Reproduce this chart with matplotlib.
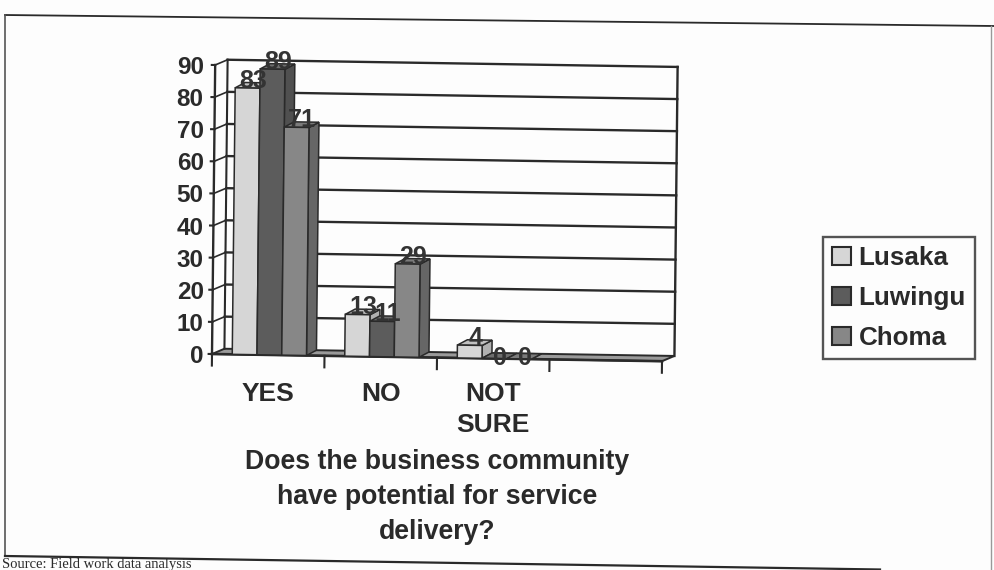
import matplotlib
matplotlib.use("Agg")
import matplotlib.pyplot as plt
import numpy as np
from matplotlib.patches import Polygon, Patch
from matplotlib.transforms import Affine2D

categories = ["YES", "NO", "NOT\nSURE", ""]
series_names = ["Lusaka", "Luwingu", "Choma"]
lusaka = [83, 13, 4]
luwingu = [89, 11, 0]
choma = [71, 29, 0]
series_values = [lusaka, luwingu, choma]
y_ticks = [0, 10, 20, 30, 40, 50, 60, 70, 80, 90]
x_title = "Does the business community\nhave potential for service\ndelivery?"
source_text = "Source: Field work data analysis"

face = ["#d6d6d6", "#5c5c5c", "#878787"]
side = ["#b0b0b0", "#505050", "#666666"]
top = ["#c0c0c0", "#6e6e6e", "#7a7a7a"]
INK = "#2a2a2a"
PAGE = "#fdfdfd"
W, H = 994, 570
plt.rcParams["font.family"] = ["Liberation Sans", "DejaVu Sans"]

fig = plt.figure(figsize=(W / 100, H / 100), dpi=100, facecolor=PAGE)

# page frame and source line, in pixel coordinates
page = fig.add_axes([0, 0, 1, 1], zorder=0)
page.set_xlim(0, W)
page.set_ylim(H, 0)
page.axis("off")
page.plot([5, 994], [15, 26], color=INK, lw=1.3)
page.plot([5, 5], [15, 556], color="#555555", lw=1.2)
page.plot([5, 880], [556, 569.5], color=INK, lw=1.6)
page.plot([991, 991], [26, 570], color="#999999", lw=1.0)
page.text(2, 568, source_text, family="Liberation Serif", fontsize=10.5, color=INK)

# chart axes
L, B, PW, PH = 212, H - 354, 450, 289
ax = fig.add_axes([L / W, B / H, PW / W, PH / H], zorder=2)
ax.set_xlim(0, 4)
ax.set_ylim(0, 90)
ax.patch.set_alpha(0)
for s in ax.spines.values():
    s.set_visible(False)

# slight tilt of the scanned page, pivoting on the axes origin
tilt = Affine2D(np.array([[1, 0.011, -0.011 * B],
                          [-0.016, 1, 0.016 * L],
                          [0, 0, 1]], dtype=float))
T = ax.transData + tilt

DX, DY = 0.11, 1.7    # depth of the 3-D box, data units
BW = 0.22             # bar width in category units
X0 = 0.18             # first bar offset inside a category


def line(xs, ys, lw=1.5, z=1, c=INK):
    ax.plot(xs, ys, color=c, lw=lw, transform=T, zorder=z, clip_on=False,
            solid_capstyle="projecting")


def poly(pts, fc, z, lw=1.1):
    ax.add_patch(Polygon(pts, closed=True, facecolor=fc, edgecolor=INK, lw=lw,
                         transform=T, zorder=z, clip_on=False))


# floor
poly([(0, 0), (4, 0), (4 + DX, DY), (DX, DY)], "#9a9a9a", 1, lw=1.4)

# back wall, left wall, gridlines
for v in y_ticks[1:]:
    line([DX, 4 + DX], [v + DY, v + DY], lw=1.7, z=1.2)
    line([0, DX], [v, v + DY], lw=1.2, z=1.2)
line([DX, DX], [DY, 90 + DY], lw=1.5, z=1.2)
line([4 + DX, 4 + DX], [DY, 90 + DY], lw=1.7, z=1.2)
line([0, 0], [0, 90], lw=1.7, z=1.2)
line([0, 4], [0, 0], lw=1.9, z=1.3)

# ticks (follow the tilt)
for v in y_ticks:
    line([-0.03, 0], [v, v], lw=1.5, z=1.3)
for x in range(5):
    line([x, x], [0, -3.6], lw=1.5, z=1.3)

# bars, back to front within each group
z = 3.0
for c in range(3):
    for s in range(3):
        v = series_values[s][c]
        x1 = c + X0 + s * BW
        x2 = x1 + BW
        poly([(x2, 0), (x2 + DX * 0.8, DY), (x2 + DX * 0.8, v + DY), (x2, v)], side[s], z)
        poly([(x1, v), (x2, v), (x2 + DX * 0.8, v + DY), (x1 + DX * 0.8, v + DY)], top[s], z)
        poly([(x1, 0), (x2, 0), (x2, v), (x1, v)], face[s], z + 0.01)
        z += 0.1

# value labels
for c in range(3):
    for s in range(3):
        v = series_values[s][c]
        x1 = c + X0 + s * BW
        ax.text(x1 + BW / 2 + DX * 0.45, v - 1.4 if v else 0.2, str(v), transform=T, ha="center",
                va="bottom" if v else "center", fontsize=18, fontweight="bold",
                color="#333333", zorder=9, clip_on=False)

# real axis ticks and labels
ax.set_yticks(y_ticks)
ax.set_xticks([])
ax.set_xticks(np.arange(4) + 0.5, categories, minor=True)
ax.tick_params(axis="y", length=0, pad=6, labelsize=17.5, labelcolor=INK)
ax.tick_params(axis="x", which="minor", length=0, pad=20, labelsize=19, labelcolor=INK)
for t in ax.get_yticklabels() + ax.get_xticklabels(minor=True):
    t.set_fontweight("bold")
    t.set_linespacing(1.38)
ax.set_xlabel(x_title, fontsize=19.2, fontweight="bold", color=INK, labelpad=9, linespacing=1.45)

handles = [Patch(facecolor=face[i], edgecolor=INK, lw=1.5, label=series_names[i]) for i in range(3)]
leg = fig.legend(handles=handles, loc="upper left",
                 bbox_to_anchor=(823 / W, 1 - 237 / H), bbox_transform=fig.transFigure,
                 fontsize=18.7, frameon=True, fancybox=False, edgecolor=INK, facecolor=PAGE,
                 handlelength=0.72, handleheight=0.72, handletextpad=0.3,
                 borderpad=0.35, labelspacing=0.62, borderaxespad=0)
leg.get_frame().set_linewidth(1.7)
for t in leg.get_texts():
    t.set_fontweight("bold")
    t.set_color(INK)

fig.savefig("out.png", dpi=100, facecolor=PAGE)
